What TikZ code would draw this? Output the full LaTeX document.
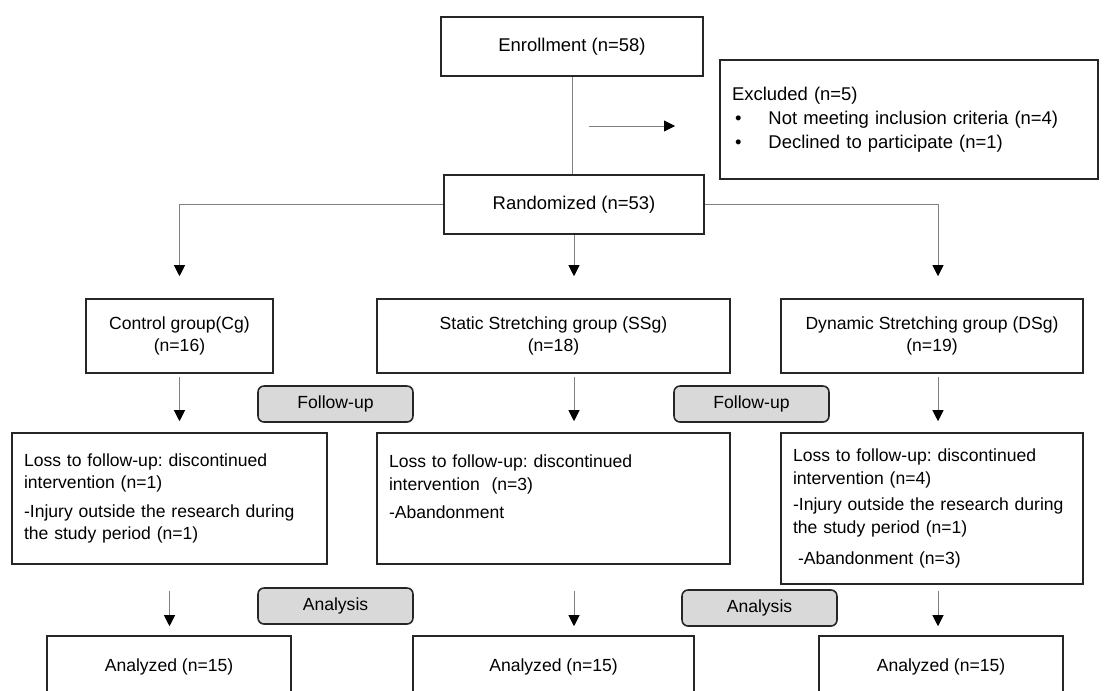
\documentclass[tikz,border=0pt]{standalone}
\usepackage{fontspec}
\setmainfont{Liberation Sans}
\usetikzlibrary{arrows.meta}
\tikzset{
	box/.style={draw=black!85, line width=0.9pt, inner sep=0pt, align=center, font=\fontsize{10}{13}\selectfont\frenchspacing},
	bigbox/.style={box, font=\fontsize{10.5}{13.6}\selectfont\frenchspacing},
	stage/.style={box, rounded corners=0.12cm, fill=black!15, minimum width=3.1cm, minimum height=0.72cm},
	line/.style={draw=black!50, line width=0.5pt},
	link/.style={line, -{Triangle[length=0.22cm,width=0.22cm,color=black]}},
}

\begin{document}
\begin{tikzpicture}[x=0.02cm, y=-0.02cm]
	\useasboundingbox (0,0) rectangle (1119,690);
	% top part
	\node[bigbox, minimum width=5.24cm, minimum height=1.18cm] (enroll) at (572,46.5) {Enrollment (n=58)};
	\node[bigbox, minimum width=5.2cm, minimum height=1.18cm] (rand) at (574,204.5) {Randomized (n=53)};
	\node[bigbox, minimum width=7.56cm, minimum height=2.38cm, text width=7.08cm, align=left] (excl) at (909,119.5)
		{Excluded (n=5)\\
		\hspace*{0.06cm}\textbullet\hspace{0.54cm}Not meeting inclusion criteria (n=4)\\
		\hspace*{0.06cm}\textbullet\hspace{0.54cm}Declined to participate (n=1)};
	\coordinate (colR) at (938,0);
	\coordinate (xs) at (589,126);
	\coordinate (xe) at (675,126);
	% groups
	\node[box, minimum width=3.74cm, minimum height=1.48cm] (cg) at (179.5,336) {Control group(Cg)\\(n=16)};
	\node[box, minimum width=7.06cm, minimum height=1.48cm] (ss) at (553.5,336) {Static Stretching group (SSg)\\(n=18)};
	\node[box, minimum width=6.04cm, minimum height=1.48cm] (ds) at (932,336) {Dynamic Stretching group (DSg)\\(n=19)};
	\node[stage] (fu1) at (335.5,404) {Follow-up};
	\node[stage] (fu2) at (751.5,404) {Follow-up};
	% losses
	\node[box, minimum width=6.3cm, minimum height=2.62cm, text width=5.82cm, align=left] (l1) at (169.5,498.5)
		{Loss to follow-up: discontinued\\intervention (n=1)\\[3pt]-Injury outside the research during\\the study period (n=1)};
	\node[box, minimum width=7.06cm, minimum height=2.62cm, text width=6.58cm, align=left] (l2) at (553.5,498.5)
		{Loss to follow-up: discontinued\\intervention \ (n=3)\\[3pt]-Abandonment\\\mbox{}};
	\node[box, minimum width=6.04cm, minimum height=3.02cm, text width=5.56cm, align=left] (l3) at (932,508.5)
		{Loss to follow-up: discontinued\\intervention (n=4)\\[2pt]-Injury outside the research during\\the study period (n=1)\\[5pt]\hspace*{0.1cm}-Abandonment (n=3)};
	\node[stage] (an1) at (335.5,606) {Analysis};
	\node[stage] (an2) at (759.5,608) {Analysis};
	% analyzed
	\node[box, minimum width=4.88cm, minimum height=1.24cm] (az1) at (169,667) {Analyzed (n=15)};
	\node[box, minimum width=5.62cm, minimum height=1.24cm] (az2) at (553.5,667) {Analyzed (n=15)};
	\node[box, minimum width=4.88cm, minimum height=1.24cm] (az3) at (941,667) {Analyzed (n=15)};
	% connectors
	\draw[line] (enroll.south) -- (rand.north -| enroll.south);
	\draw[link] (xs) -- (xe);
	\draw[link, shorten >=0.44cm] (rand.west) -| (cg.north);
	\draw[link, shorten >=0.44cm] (rand.east) -| (ds.north -| colR);
	\draw[link, shorten >=0.44cm] (rand.south) -- (ss.north -| rand.south);
	\draw[link, shorten <=0.06cm, shorten >=0.22cm] (cg.south) -- (l1.north -| cg.south);
	\draw[link, shorten <=0.06cm, shorten >=0.22cm] (ss.south -| rand.south) -- (l2.north -| rand.south);
	\draw[link, shorten <=0.06cm, shorten >=0.22cm] (ds.south -| colR) -- (l3.north -| colR);
	\draw[link, shorten <=0.52cm, shorten >=0.18cm] (l1.south) -- (az1.north -| l1.south);
	\draw[link, shorten <=0.52cm, shorten >=0.18cm] (l2.south -| rand.south) -- (az2.north -| rand.south);
	\draw[link, shorten <=0.12cm, shorten >=0.18cm] (l3.south -| colR) -- (az3.north -| colR);
\end{tikzpicture}
\end{document}
